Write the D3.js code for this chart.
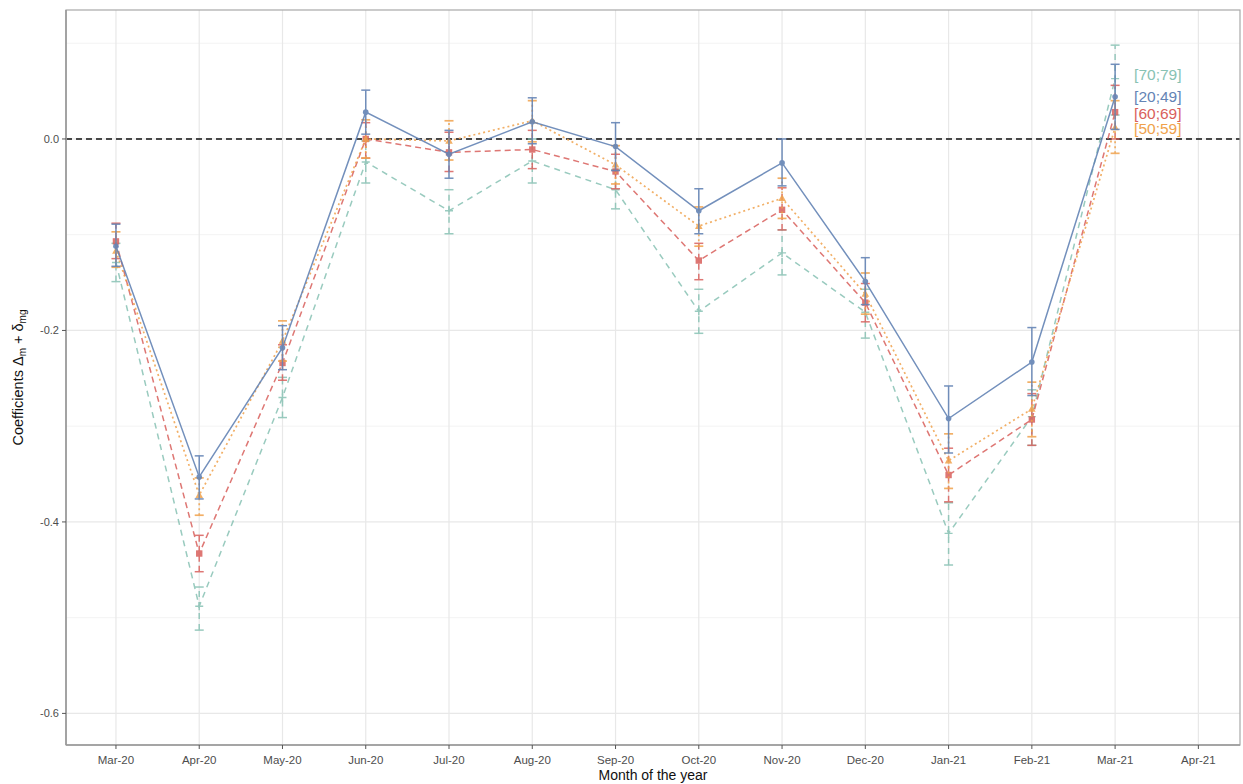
<!DOCTYPE html>
<html><head><meta charset="utf-8">
<script src="https://cdn.jsdelivr.net/npm/d3@7"></script>
<style>body{margin:0;background:#fff;}svg{display:block;font-family:"Liberation Sans",Arial,sans-serif;}</style>
</head><body><svg id="c" width="1243" height="784"></svg>
<script>
const months = ["Mar-20","Apr-20","May-20","Jun-20","Jul-20","Aug-20","Sep-20","Oct-20","Nov-20","Dec-20","Jan-21","Feb-21","Mar-21","Apr-21"];
const yTicks = [0.0,-0.2,-0.4,-0.6];
const yMinor = [0.1,-0.1,-0.3,-0.5];
const groups = ["[70;79]","[60;69]","[50;59]","[20;49]"];
// estimates, lower, upper per group
const est70 = [-0.129,-0.488,-0.270,-0.024,-0.075,-0.023,-0.053,-0.180,-0.119,-0.181,-0.412,-0.290,0.063];
const lo70  = [-0.149,-0.513,-0.291,-0.046,-0.099,-0.046,-0.073,-0.203,-0.142,-0.208,-0.445,-0.320,0.025];
const hi70  = [-0.109,-0.468,-0.249,-0.002,-0.053,0.000,-0.032,-0.157,-0.095,-0.157,-0.380,-0.262,0.098];
const est60 = [-0.107,-0.433,-0.234,0.000,-0.014,-0.011,-0.034,-0.127,-0.074,-0.171,-0.351,-0.293,0.028];
const lo60  = [-0.125,-0.452,-0.252,-0.020,-0.034,-0.031,-0.052,-0.147,-0.095,-0.191,-0.379,-0.320,0.000];
const hi60  = [-0.088,-0.414,-0.215,0.017,0.007,0.009,-0.016,-0.109,-0.051,-0.151,-0.323,-0.266,0.056];
const est50 = [-0.117,-0.372,-0.211,0.000,-0.002,0.019,-0.027,-0.091,-0.062,-0.162,-0.336,-0.282,0.012];
const lo50  = [-0.134,-0.393,-0.232,-0.020,-0.022,-0.003,-0.047,-0.112,-0.083,-0.183,-0.365,-0.311,-0.015];
const hi50  = [-0.097,-0.354,-0.190,0.020,0.019,0.040,-0.007,-0.071,-0.041,-0.140,-0.308,-0.254,0.040];
const est20 = [-0.112,-0.353,-0.218,0.028,-0.016,0.018,-0.008,-0.075,-0.025,-0.149,-0.292,-0.233,0.044];
const lo20  = [-0.133,-0.376,-0.241,0.005,-0.041,-0.005,-0.033,-0.099,-0.049,-0.173,-0.328,-0.268,0.010];
const hi20  = [-0.089,-0.331,-0.195,0.051,0.009,0.043,0.017,-0.052,0.000,-0.124,-0.258,-0.197,0.078];
const labelValues = [0.067,0.027,0.011,0.044];

const series = [
  {name:groups[0], est:est70, lo:lo70, hi:hi70, color:"#88c2b4", dash:"6,5", shape:"plus", width:1.5, op:0.85},
  {name:groups[1], est:est60, lo:lo60, hi:hi60, color:"#d9605c", dash:"6,4", shape:"square", width:1.5, op:0.85},
  {name:groups[2], est:est50, lo:lo50, hi:hi50, color:"#f0a24c", dash:"2,3", shape:"triangle", width:1.7, op:0.85},
  {name:groups[3], est:est20, lo:lo20, hi:hi20, color:"#6484b5", dash:null, shape:"circle", width:1.5, op:0.9}
];

const svg = d3.select("#c");
const L=66, R=1240, T=10, B=745;
const x = d3.scaleLinear().domain([-0.6,13.5]).range([L,R]);
const y = d3.scaleLinear().domain([0.1347,-0.633]).range([T,B]);

// grid
const g = svg.append("g");
g.selectAll(".ym").data(yMinor).join("line").attr("x1",L).attr("x2",R)
 .attr("y1",d=>y(d)).attr("y2",d=>y(d)).attr("stroke","#f3f3f3").attr("stroke-width",1);
g.selectAll(".yM").data(yTicks).join("line").attr("x1",L).attr("x2",R)
 .attr("y1",d=>y(d)).attr("y2",d=>y(d)).attr("stroke","#e8e8e8").attr("stroke-width",1.2);
g.selectAll(".xM").data(months).join("line").attr("y1",T).attr("y2",B)
 .attr("x1",(d,i)=>x(i)).attr("x2",(d,i)=>x(i)).attr("stroke","#e8e8e8").attr("stroke-width",1.2);

// zero line
svg.append("line").attr("x1",L).attr("x2",R).attr("y1",y(0)).attr("y2",y(0))
 .attr("stroke","#111").attr("stroke-width",1.5).attr("stroke-dasharray","6,4");

const line = d3.line().x((d,i)=>x(i)).y(d=>y(d));
series.forEach(s=>{
  const gg = svg.append("g").attr("opacity",s.op);
  // error bars
  s.est.forEach((v,i)=>{
    const xi=x(i), cw=4.5;
    gg.append("line").attr("x1",xi).attr("x2",xi).attr("y1",y(s.lo[i])).attr("y2",y(s.hi[i]))
      .attr("stroke",s.color).attr("stroke-width",s.width).attr("stroke-dasharray",s.dash);
    [s.lo[i],s.hi[i]].forEach(c=>{
      gg.append("line").attr("x1",xi-cw).attr("x2",xi+cw).attr("y1",y(c)).attr("y2",y(c))
        .attr("stroke",s.color).attr("stroke-width",s.width);
    });
  });
  gg.append("path").attr("d",line(s.est)).attr("fill","none").attr("stroke",s.color)
    .attr("stroke-width",s.width).attr("stroke-dasharray",s.dash);
  s.est.forEach((v,i)=>{
    const xi=x(i), yi=y(v);
    if(s.shape==="circle") gg.append("circle").attr("cx",xi).attr("cy",yi).attr("r",2.8).attr("fill",s.color);
    else if(s.shape==="square") gg.append("rect").attr("x",xi-3.2).attr("y",yi-3.2).attr("width",6.4).attr("height",6.4).attr("fill",s.color);
    else if(s.shape==="triangle") gg.append("path").attr("d",`M${xi},${yi-4}L${xi+3.8},${yi+2.8}L${xi-3.8},${yi+2.8}Z`).attr("fill",s.color);
    else gg.append("path").attr("d",`M${xi-4},${yi}H${xi+4}M${xi},${yi-4}V${yi+4}`).attr("stroke",s.color).attr("stroke-width",1.4);
  });
  const li = groups.indexOf(s.name);
  svg.append("text").attr("x",x(12)+19).attr("y",y(labelValues[li])).attr("dy","0.36em")
    .attr("fill",s.color).attr("font-size",15.5).text(s.name);
});

// panel border
svg.append("rect").attr("x",L).attr("y",T).attr("width",R-L).attr("height",B-T)
 .attr("fill","none").attr("stroke","#a8a8a8").attr("stroke-width",1.2);
svg.append("line").attr("x1",L).attr("x2",L).attr("y1",T).attr("y2",B).attr("stroke","#999").attr("stroke-width",1.6);
svg.append("line").attr("x1",L).attr("x2",R).attr("y1",B).attr("y2",B).attr("stroke","#999").attr("stroke-width",1.6);

// axes ticks & labels
svg.selectAll(".yt").data(yTicks).join("line").attr("x1",L-4).attr("x2",L).attr("y1",d=>y(d)).attr("y2",d=>y(d)).attr("stroke","#555");
svg.selectAll(".yl").data(yTicks).join("text").attr("x",L-7).attr("y",d=>y(d)).attr("dy","0.35em")
 .attr("text-anchor","end").attr("font-size",11).attr("fill","#4d4d4d").text(d=>d3.format(".1f")(d).replace("−","-"));
svg.selectAll(".xt").data(months).join("line").attr("x1",(d,i)=>x(i)).attr("x2",(d,i)=>x(i)).attr("y1",B).attr("y2",B+4).attr("stroke","#555");
svg.selectAll(".xl").data(months).join("text").attr("x",(d,i)=>x(i)).attr("y",B+19)
 .attr("text-anchor","middle").attr("font-size",11.5).attr("fill","#4d4d4d").text(d=>d);

svg.append("text").attr("x",(L+R)/2).attr("y",780).attr("text-anchor","middle").attr("font-size",14).attr("fill","#111").text("Month of the year");
const yt = svg.append("text").attr("transform",`translate(23,${(T+B)/2}) rotate(-90)`).attr("text-anchor","middle").attr("font-size",14.5).attr("fill","#111");
yt.append("tspan").text("Coefficients  \u0394");
yt.append("tspan").attr("font-size",10).attr("dy",3).text("m");
yt.append("tspan").attr("dy",-3).text(" + \u03b4");
yt.append("tspan").attr("font-size",10).attr("dy",3).text("mg");
</script></body></html>
